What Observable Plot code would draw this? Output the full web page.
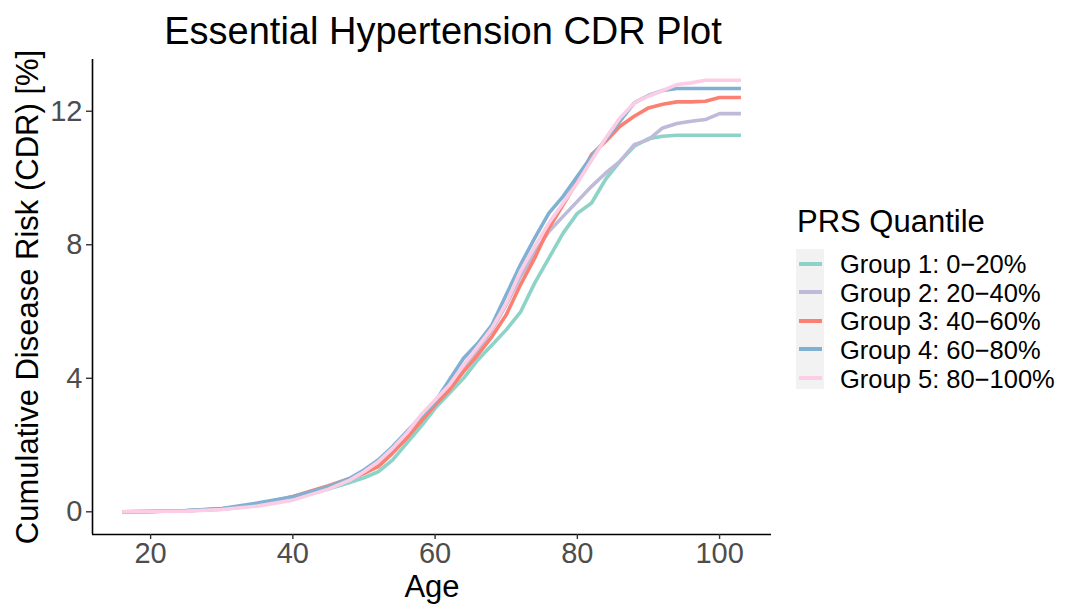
<!DOCTYPE html>
<html>
<head>
<meta charset="utf-8">
<script src="https://cdn.jsdelivr.net/npm/d3@7"></script>
<script src="https://cdn.jsdelivr.net/npm/@observablehq/plot@0.6"></script>
<style>
  html, body { margin: 0; padding: 0; background: #fff; }
  #wrap { position: relative; width: 1080px; height: 604px; overflow: hidden;
          font-family: "Liberation Sans", Arial, Helvetica, sans-serif; color: #000; }
  .abs { position: absolute; line-height: 1; white-space: nowrap; }
  #title { font-size: 38px; top: 11.8px; left: 443px; transform: translateX(-50%); }
  #legTitle { font-size: 31px; left: 797px; top: 205.5px; }
  #legBg { left: 796px; top: 249px; width: 28px; height: 140px; background: #f2f2f2; }
  .key { left: 799px; width: 23px; height: 4px; }
  .item { font-size: 25.5px; left: 840px; line-height: 0.9; }
</style>
</head>
<body>
<div id="wrap">
  <div id="title" class="abs">Essential Hypertension CDR Plot</div>
  <div id="legend"></div>
</div>
<script>
// ---- data ----
const groupLabels = ["Group 1: 0\u221220%", "Group 2: 20\u221240%", "Group 3: 40\u221260%", "Group 4: 60\u221280%", "Group 5: 80\u2212100%"];
const colors = ["#8dd3c7", "#bebada", "#fb8072", "#80b1d3", "#fccde5"];
const ages = [16,20,25,30,35,40,45,48,50,52,54,56,58,60,62,64,66,68,70,72,74,76,78,80,82,84,86,88,90,92,94,96,98,100,103];
const g1 = [0,0.01,0.03,0.08,0.19,0.38,0.68,0.88,1.02,1.2,1.55,2.05,2.55,3.1,3.55,4.0,4.55,5.0,5.45,5.98,6.85,7.6,8.35,8.94,9.25,9.97,10.5,10.95,11.18,11.25,11.28,11.28,11.28,11.28,11.28];
const g2 = [0,0.01,0.03,0.08,0.2,0.4,0.72,0.95,1.15,1.45,1.8,2.3,2.75,3.2,3.75,4.35,4.85,5.45,6.2,7.05,7.75,8.4,8.85,9.3,9.75,10.15,10.5,11.0,11.15,11.5,11.63,11.7,11.75,11.93,11.93];
const g3 = [0,0.01,0.03,0.09,0.22,0.46,0.78,1.0,1.15,1.35,1.75,2.2,2.7,3.2,3.65,4.2,4.7,5.25,5.9,6.8,7.6,8.5,9.2,9.9,10.7,11.1,11.55,11.85,12.1,12.21,12.28,12.28,12.3,12.41,12.41];
const g4 = [0,0.01,0.04,0.1,0.26,0.45,0.75,1.0,1.25,1.55,1.95,2.4,2.85,3.3,3.95,4.6,5.05,5.6,6.5,7.4,8.2,8.95,9.45,10.05,10.65,11.15,11.7,12.25,12.47,12.62,12.68,12.68,12.68,12.68,12.68];
const g5 = [0,0.01,0.02,0.07,0.17,0.35,0.68,0.95,1.2,1.5,1.9,2.35,2.9,3.35,3.8,4.4,4.95,5.5,6.25,7.2,7.95,8.65,9.25,9.85,10.53,11.2,11.8,12.25,12.45,12.62,12.8,12.85,12.93,12.93,12.93];
const series = [g1, g2, g3, g4, g5];
const xTicks = [20, 40, 60, 80, 100];
const yTicks = [0, 4, 8, 12];
const xDomain = [11.83, 107.3];
const yDomain = [-0.68, 13.55];

const rows = [];
series.forEach((vals, gi) => vals.forEach((v, i) => rows.push({group: groupLabels[gi], age: ages[i], cdr: v})));

const font = "'Liberation Sans', Arial, Helvetica, sans-serif";

const chart = Plot.plot({
  width: 1080,
  height: 604,
  marginLeft: 92,
  marginRight: 309,
  marginTop: 59,
  marginBottom: 70,
  style: {fontFamily: font, background: "transparent", overflow: "visible"},
  x: {domain: xDomain},
  y: {domain: yDomain},
  color: {domain: groupLabels, range: colors},
  marks: [
    Plot.line(rows, {x: "age", y: "cdr", z: "group", stroke: "group", strokeWidth: 3.6, strokeLinejoin: "round", strokeLinecap: "butt"}),
    Plot.ruleY([yDomain[0]], {stroke: "#000", strokeWidth: 1.6}),
    Plot.ruleX([xDomain[0]], {stroke: "#000", strokeWidth: 1.6}),
    Plot.axisX({ticks: xTicks, tickSize: 5, tickPadding: 3, fontSize: 29, fill: "#4d4d4d", stroke: "#333", strokeWidth: 1.4, label: null, tickFormat: d => String(d)}),
    Plot.axisY({ticks: yTicks, tickSize: 6, tickPadding: 4, fontSize: 29, fill: "#4d4d4d", stroke: "#333", strokeWidth: 1.4, label: null, tickFormat: d => String(d)}),
    Plot.text(["Age"], {frameAnchor: "bottom", lineAnchor: "middle", dy: 53, fontSize: 31, fill: "#000", textAnchor: "middle"}),
    Plot.text(["Cumulative Disease Risk (CDR) [%]"], {frameAnchor: "left", lineAnchor: "middle", dx: -64.5, rotate: -90, fontSize: 31, fill: "#000", textAnchor: "middle"})
  ]
});
chart.style.position = "absolute";
chart.style.left = "0px";
chart.style.top = "0px";
const wrap = document.getElementById("wrap");
wrap.insertBefore(chart, wrap.firstChild);

// ---- legend ----
const step = 28.6;
const leg = document.getElementById("legend");
const lt = document.createElement("div");
lt.className = "abs"; lt.id = "legTitle"; lt.textContent = "PRS Quantile";
leg.appendChild(lt);
const bg = document.createElement("div");
bg.className = "abs"; bg.id = "legBg";
leg.appendChild(bg);
groupLabels.forEach((g, i) => {
  const k = document.createElement("div");
  k.className = "abs key";
  k.style.top = (263.5 + i * step - 2) + "px";
  k.style.background = colors[i];
  leg.appendChild(k);
  const t = document.createElement("div");
  t.className = "abs item";
  t.style.top = (273.5 + i * step - 20.3) + "px";
  t.textContent = g;
  leg.appendChild(t);
});
</script>
</body>
</html>
